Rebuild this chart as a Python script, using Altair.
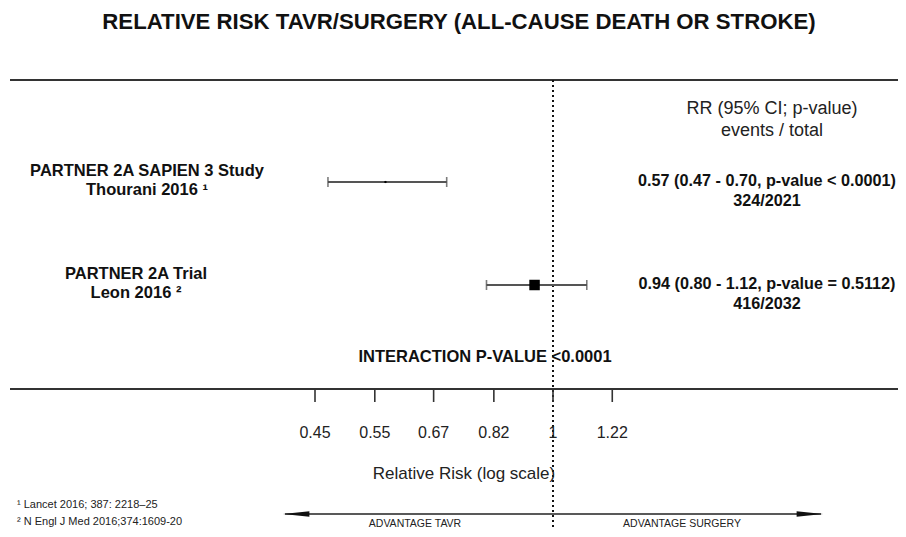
import altair as alt
import pandas as pd

# ---------------- data ----------------
studies = ["PARTNER 2A SAPIEN 3 Study", "PARTNER 2A Trial"]
authors = ["Thourani 2016 ¹", "Leon 2016 ²"]
rr = [0.57, 0.94]
ci_low = [0.47, 0.80]
ci_high = [0.70, 1.12]
ci_low_txt = ["0.47", "0.80"]
ci_high_txt = ["0.70", "1.12"]
rr_txt = ["0.57", "0.94"]
p_text = ["< 0.0001", "= 0.5112"]
events = [324, 416]
totals = [2021, 2032]
weights = [0.04, 1.0]
tick_values = [0.45, 0.55, 0.67, 0.82, 1.0, 1.22]
tick_labels = ["0.45", "0.55", "0.67", "0.82", "1", "1.22"]
title_text = "RELATIVE RISK TAVR/SURGERY (ALL-CAUSE DEATH OR STROKE)"
header_text = "RR (95% CI; p-value)\nevents / total"
interaction_text = "INTERACTION P-VALUE <0.0001"
axis_title = "Relative Risk (log scale)"
footnotes = ["¹ Lancet 2016; 387: 2218–25", "² N Engl J Med 2016;374:1609-20"]
advantage_left = "ADVANTAGE TAVR"
advantage_right = "ADVANTAGE SURGERY"
null_value = 1.0

rows = list(range(1, len(studies) + 1))
df = pd.DataFrame({
    "row": rows,
    "label": [s + "\n" + a for s, a in zip(studies, authors)],
    "rr": rr, "lo": ci_low, "hi": ci_high,
    "stat": [f"{r} ({l} - {h}, p-value {p})\n{e}/{t}" for r, l, h, p, e, t in
             zip(rr_txt, ci_low_txt, ci_high_txt, p_text, events, totals)],
    "weight": weights,
})
ticks = pd.DataFrame({"v": tick_values, "lab": tick_labels})
one = pd.DataFrame({"v": [null_value]})
dummy = pd.DataFrame({"a": [0]})

FONT = "Liberation Sans"
xs = alt.Scale(type="log", domain=[0.45, 1.0], range=[307, 545])
ys = alt.Scale(domain=[1, 2], range=[174, 277])
X = lambda f: alt.X(f, scale=xs, axis=None)
Y = alt.Y("row:Q", scale=ys, axis=None)

title = alt.Chart(dummy).mark_text(font=FONT, fontWeight="bold", fontSize=22.2,
                                   align="center", baseline="middle", color="#111").encode(
    x=alt.value(451), y=alt.value(13.5), text=alt.value(title_text))

top_line = alt.Chart(dummy).mark_rule(color="#333", strokeWidth=1.8).encode(
    x=alt.value(2), x2=alt.value(890), y=alt.value(72))
bottom_line = alt.Chart(dummy).mark_rule(color="#333", strokeWidth=1.8).encode(
    x=alt.value(2), x2=alt.value(890), y=alt.value(381))

null_line = alt.Chart(one).mark_rule(color="#111", strokeWidth=2, strokeDash=[2, 3]).encode(
    x=X("v:Q"), y=alt.value(72), y2=alt.value(520))

ci = alt.Chart(df).mark_rule(color="#555", strokeWidth=1.8).encode(
    x=X("lo:Q"), x2="hi:Q", y=Y)
cap_lo = alt.Chart(df).mark_tick(color="#444", orient="vertical", size=10, thickness=1.6).encode(
    x=X("lo:Q"), y=Y)
cap_hi = alt.Chart(df).mark_tick(color="#444", orient="vertical", size=10, thickness=1.6).encode(
    x=X("hi:Q"), y=Y)
box = alt.Chart(df).mark_square(color="#000", opacity=1).encode(
    x=X("rr:Q"), y=Y,
    size=alt.Size("weight:Q", scale=alt.Scale(domain=[0, 1], range=[0, 110]), legend=None))

left_lab_1 = alt.Chart(df).transform_filter(alt.datum.row == 1).mark_text(
    font=FONT, fontWeight="bold", fontSize=16.5, lineBreak="\n", lineHeight=19, align="center",
    baseline="middle", dy=-11, color="#111").encode(x=alt.value(139), y=Y, text="label:N")
left_lab_2 = alt.Chart(df).transform_filter(alt.datum.row == 2).mark_text(
    font=FONT, fontWeight="bold", fontSize=16.5, lineBreak="\n", lineHeight=19, align="center",
    baseline="middle", dy=-11, color="#111").encode(x=alt.value(128), y=Y, text="label:N")
right_lab = alt.Chart(df).mark_text(font=FONT, fontWeight="bold", fontSize=16.2, lineBreak="\n",
                                    lineHeight=20, align="center", baseline="middle", dy=-1,
                                    color="#111").encode(
    x=alt.value(759), y=Y, text="stat:N")
header = alt.Chart(dummy).mark_text(font=FONT, fontSize=18, lineBreak="\n", lineHeight=22,
                                    align="center", baseline="middle", color="#222").encode(
    x=alt.value(764), y=alt.value(100.5), text=alt.value(header_text))
interaction = alt.Chart(dummy).mark_text(font=FONT, fontWeight="bold", fontSize=16.5,
                                         align="center", baseline="middle", color="#111").encode(
    x=alt.value(477), y=alt.value(349), text=alt.value(interaction_text))

tick_marks = alt.Chart(ticks).mark_rule(color="#333", strokeWidth=1.6).encode(
    x=X("v:Q"), y=alt.value(381), y2=alt.value(394))
tick_text = alt.Chart(ticks).mark_text(font=FONT, fontSize=16, align="center", baseline="middle",
                                       color="#222").encode(
    x=X("v:Q"), y=alt.value(425), text="lab:N")
axis_lab = alt.Chart(dummy).mark_text(font=FONT, fontSize=17, align="center", baseline="middle",
                                      color="#222").encode(
    x=alt.value(456), y=alt.value(466), text=alt.value(axis_title))

foot = alt.Chart(dummy).mark_text(font=FONT, fontSize=11, lineBreak="\n", lineHeight=17,
                                  align="left", baseline="middle", color="#222").encode(
    x=alt.value(9), y=alt.value(497), text=alt.value("\n".join(footnotes)))

arrow_line = alt.Chart(dummy).mark_rule(color="#222", strokeWidth=1.5).encode(
    x=alt.value(277), x2=alt.value(813), y=alt.value(506))
head_l = alt.Chart(dummy).mark_point(shape="M0,0L2.2,-0.22L2.2,0.22Z", filled=True, size=576,
                                     color="#111", opacity=1).encode(
    x=alt.value(275), y=alt.value(506))
head_r = alt.Chart(dummy).mark_point(shape="M0,0L-2.2,-0.22L-2.2,0.22Z", filled=True, size=576,
                                     color="#111", opacity=1).encode(
    x=alt.value(815), y=alt.value(506))
adv_l = alt.Chart(dummy).mark_text(font=FONT, fontSize=10.5, align="center", baseline="middle",
                                   color="#222").encode(
    x=alt.value(407), y=alt.value(516), text=alt.value(advantage_left))
adv_r = alt.Chart(dummy).mark_text(font=FONT, fontSize=10.5, align="center", baseline="middle",
                                   color="#222").encode(
    x=alt.value(674), y=alt.value(516), text=alt.value(advantage_right))

chart = alt.layer(
    title, top_line, bottom_line, null_line, ci, cap_lo, cap_hi, box,
    left_lab_1, left_lab_2, right_lab, header, interaction, tick_marks, tick_text, axis_lab,
    foot, arrow_line, head_l, head_r, adv_l, adv_r,
).properties(
    width=890, height=520, padding=0, autosize=alt.AutoSizeParams(type="none"),
    background="white",
).configure_view(stroke=None)

chart.save("out.html", embed_options={"renderer": "svg", "actions": False})
